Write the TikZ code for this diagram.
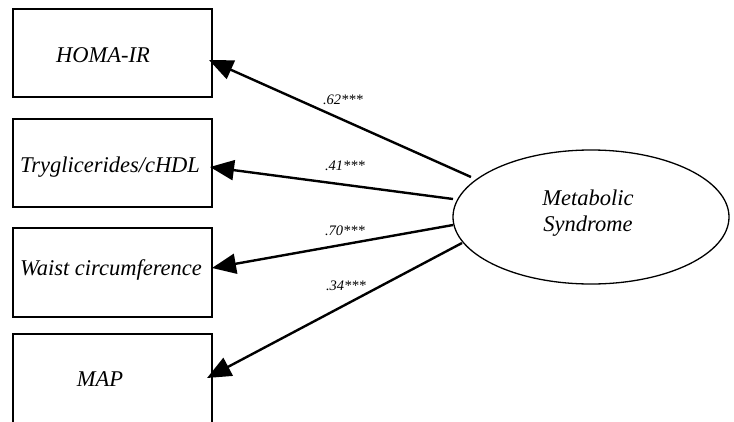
\documentclass[tikz,border=0pt]{standalone}
\usepackage{fontspec}
\setmainfont{Liberation Serif}
\usetikzlibrary{arrows.meta,shapes.geometric}
\begin{document}
\begin{tikzpicture}[x=1pt,y=-1pt,
  obs/.style={draw,line width=2pt},
  lbl/.style={font=\fontsize{22.5}{26}\selectfont\itshape,inner sep=0pt},
  coef/.style={font=\fontsize{14.5}{16}\selectfont\itshape,inner sep=0pt},
  conn/.style={line width=2.4pt,-{Triangle[length=24pt,width=20pt]}}]
\useasboundingbox (0,0) rectangle (734,421);
\clip (0,0) rectangle (734,421);
\node[obs,minimum width=199pt,minimum height=88pt,inner sep=0pt] (b1) at (112.5,53) {};
\node[obs,minimum width=199pt,minimum height=88pt,inner sep=0pt] (b2) at (112.5,163) {};
\node[obs,minimum width=199pt,minimum height=89pt,inner sep=0pt] (b3) at (112.5,272.5) {};
\node[obs,minimum width=199pt,minimum height=110pt,inner sep=0pt] (b4) at (112.5,389) {};
\node[lbl] (t1) at (103,55) {HOMA-IR};
\node[lbl] (t2) at (110,167) {Tryglicerides/cHDL};
\node[lbl] (t3) at (111,270) {Waist circumference};
\node[lbl] (t4) at (100,379) {MAP};
\node[draw,line width=1.3pt,ellipse,minimum width=276pt,minimum height=134pt,inner sep=0pt] (ms) at (591,217) {};
\node[lbl,align=center] (mst) at (588,213) {Metabolic\\Syndrome};
\coordinate (s1) at (471,177);
\coordinate (s2) at (453,199);
\coordinate (s3) at (453,225);
\coordinate (s4) at (462,243);
\coordinate (e1) at (209,60);
\coordinate (e2) at (210,167);
\coordinate (e3) at (212,268);
\coordinate (e4) at (207,378);
\draw[conn] (s1) -- (e1);
\draw[conn] (s2) -- (e2);
\draw[conn] (s3) -- (e3);
\draw[conn] (s4) -- (e4);
\node[coef] (c1) at (343,100) {.62***};
\node[coef] (c2) at (345,166) {.41***};
\node[coef] (c3) at (345,231) {.70***};
\node[coef] (c4) at (346,286) {.34***};
\end{tikzpicture}
\end{document}
